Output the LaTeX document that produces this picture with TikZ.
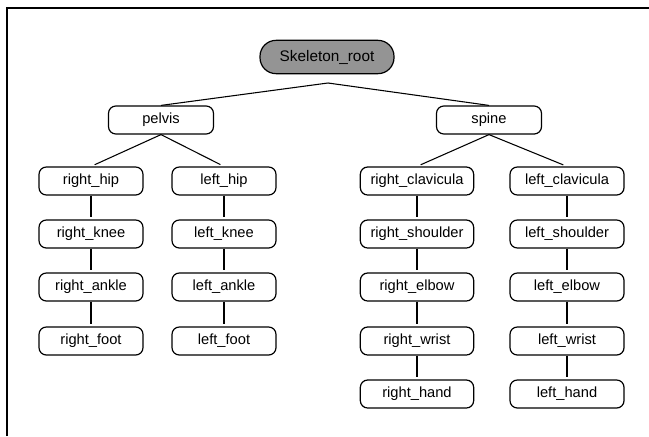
\documentclass[tikz,border=0pt]{standalone}
\usepackage{fontspec}
\setmainfont{Liberation Sans}
\begin{document}
\begin{tikzpicture}[x=0.75pt,y=-0.75pt,
  box/.style={draw=black,line width=0.9pt,rounded corners=5.5pt,minimum height=21pt,inner sep=0pt,
    font=\fontsize{11}{13}\selectfont},
  rootbox/.style={draw=black,line width=0.9pt,rounded corners=12pt,fill=black!42,minimum width=100.5pt,minimum height=25pt,inner sep=0pt,
    font=\fontsize{11.5}{13}\selectfont},
  link/.style={line width=0.8pt,shorten >=3pt}]
\useasboundingbox (0,0) rectangle (649,436);
\draw[line width=1pt] (7,436) -- (7,8) -- (649,8);
% root
\node[rootbox] (root) at (327,57) {Skeleton\_root};
\coordinate (rj) at (328,83);
\node[box,minimum width=78.75pt] (pelvis) at (161,120) {pelvis};
\node[box,minimum width=78.75pt] (spine) at (489,120) {spine};
% legs
\node[box,minimum width=78pt] (rhip) at (91,181) {right\_hip};
\node[box,minimum width=78pt] (rknee) at (91,234) {right\_knee};
\node[box,minimum width=78pt] (rankle) at (91,287) {right\_ankle};
\node[box,minimum width=78pt] (rfoot) at (91,341) {right\_foot};
\node[box,minimum width=78pt] (lhip) at (224,181) {left\_hip};
\node[box,minimum width=78pt] (lknee) at (224,234) {left\_knee};
\node[box,minimum width=78pt] (lankle) at (224,287) {left\_ankle};
\node[box,minimum width=78pt] (lfoot) at (224,341) {left\_foot};
% arms
\node[box,minimum width=85pt] (rclav) at (417,181) {right\_clavicula};
\node[box,minimum width=85pt] (rshould) at (417,234) {right\_shoulder};
\node[box,minimum width=85pt] (relbow) at (417,287) {right\_elbow};
\node[box,minimum width=85pt] (rwrist) at (417,341) {right\_wrist};
\node[box,minimum width=85pt] (rhand) at (417,394) {right\_hand};
\node[box,minimum width=85.5pt] (lclav) at (567,181) {left\_clavicula};
\node[box,minimum width=85.5pt] (lshould) at (567,234) {left\_shoulder};
\node[box,minimum width=85.5pt] (lelbow) at (567,287) {left\_elbow};
\node[box,minimum width=85.5pt] (lwrist) at (567,341) {left\_wrist};
\node[box,minimum width=85.5pt] (lhand) at (567,394) {left\_hand};
% connectors
\draw[link,shorten >=0pt] (rj) -- (pelvis.north);
\draw[link,shorten >=0pt] (rj) -- (spine.north);
\draw[link] (pelvis.south) -- (rhip.north);
\draw[link] (pelvis.south) -- (lhip.north);
\draw[link] (spine.south) -- (rclav.north);
\draw[link] (spine.south) -- (lclav.north);
\foreach \a/\b in {rhip/rknee,rknee/rankle,rankle/rfoot,lhip/lknee,lknee/lankle,lankle/lfoot,
  rclav/rshould,rshould/relbow,relbow/rwrist,rwrist/rhand,lclav/lshould,lshould/lelbow,lelbow/lwrist,lwrist/lhand}
  \draw[link,shorten >=2pt] (\a.south) -- (\b.north);
\end{tikzpicture}
\end{document}
